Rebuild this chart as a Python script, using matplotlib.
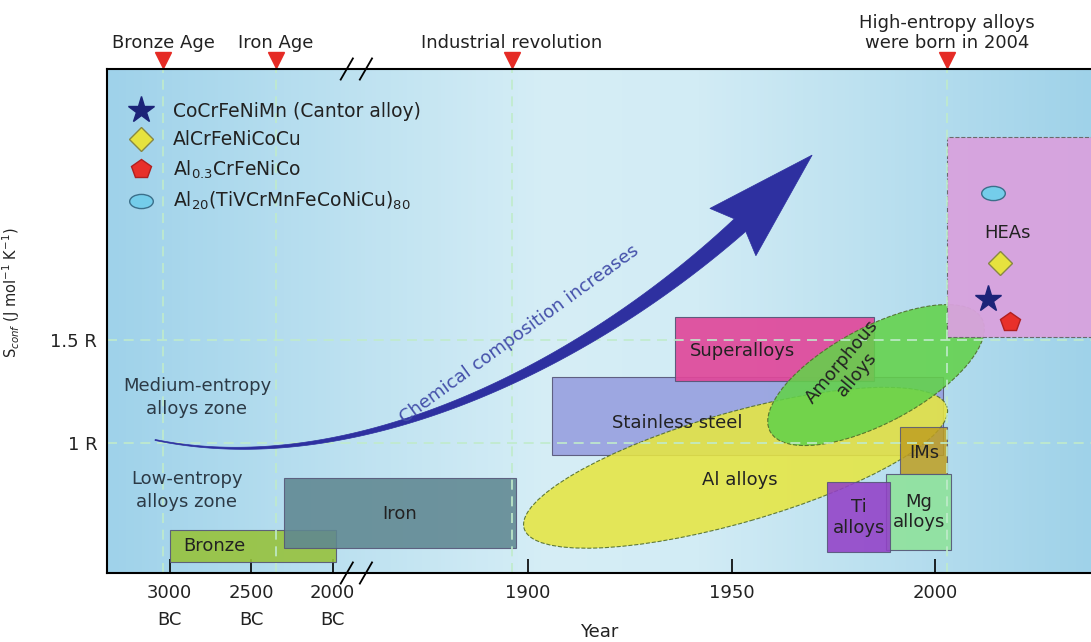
import numpy as np
import matplotlib
matplotlib.use("Agg")
import matplotlib.pyplot as plt
from matplotlib import transforms
from matplotlib.patches import Rectangle, Ellipse, Polygon
from matplotlib.colors import LinearSegmentedColormap
from matplotlib.markers import MarkerStyle
from matplotlib.path import Path

plt.rcParams["font.family"] = "DejaVu Sans"
plt.rcParams["mathtext.default"] = "regular"

# %% data (years < 0 are BC)
tick_years = [-3000, -2500, -2000, 1900, 1950, 2000]
tick_labels = ["3000\nBC", "2500\nBC", "2000\nBC", "1900", "1950", "2000"]
s_ticks = [1.0, 1.5]
s_tick_labels = ["1 R", "1.5 R"]

event_names = ["Bronze Age", "Iron Age", "Industrial revolution",
               "High-entropy alloys\nwere born in 2004"]
event_years = [-3040, -2350, 1896, 2003]

# rectangular alloy families: start year, end year, low S, high S
box_names = ["Stainless steel", "Superalloys", "Bronze", "Iron",
             "IMs", "Mg\nalloys", "Ti\nalloys", "HEAs"]
box_x0 = [1906, 1936, -3000, -2300, 1991.5, 1988, 1973.5, 2003]
box_x1 = [2002, 1985, -1980, 1897, 2003, 2004, 1989, 2045]
box_s0 = [0.94, 1.30, 0.42, 0.49, 0.85, 0.48, 0.47, 1.515]
box_s1 = [1.32, 1.61, 0.58, 0.83, 1.08, 0.85, 0.81, 2.485]

# elliptical alloy families: centre year, centre S
ell_names = ["Al alloys", "Amorphous\nalloys"]
ell_years = [1951, 1985.5]
ell_s = [0.88, 1.33]
ell_label_years = [1952, 1979]
ell_label_s = [0.82, 1.365]

# high-entropy alloys
hea_names = ["CoCrFeNiMn (Cantor alloy)", "AlCrFeNiCoCu",
             r"Al$_{0.3}$CrFeNiCo", r"Al$_{20}$(TiVCrMnFeCoNiCu)$_{80}$"]
hea_years = [2013, 2016, 2018.5, 2014.3]
hea_s = [1.70, 1.875, 1.59, 2.215]

# trend arrow: start, two controls, end of shaft, tip  (year position, S)
arrow_x = [1808.4, 1856.3, 1912.8, 1952.1, 1969.8]
arrow_s = [1.015, 0.82, 1.354, 2.058, 2.398]


def to_pos(year):
    """BC years get squeezed onto the left of the broken axis"""
    year = np.asarray(year, dtype=float)
    return np.where(year < 0, 1852 + (year + 2000) * 0.04, year)


# %% styles
box_colors = ["#97a0df", "#e0489a", "#97c23c", "#5f8791",
              "#bf9f22", "#8fe29b", "#9340c8", "#d9a2de"]
box_alpha = [0.9, 0.92, 0.9, 0.88, 0.85, 0.9, 0.88, 0.95]
box_label_fx = [0.32, 0.34, 0.08, 0.5, 0.5, 0.5, 0.5, 0.35]
box_label_fy = [0.42, 0.47, 0.5, 0.48, 0.45, 0.5, 0.5, 0.52]
box_label_ha = ["center", "center", "left", "center", "center", "center", "center", "center"]
ell_colors = ["#e6e642", "#63d24a"]
ell_size = [(440, 110, 16), (240, 96, 28)]  # width px, height px, angle
ell_rot = [0, 50]
hea_markers = ["*", "D", "p", MarkerStyle(Path.unit_circle().transformed(
    transforms.Affine2D().scale(1, 0.6)))]
hea_colors = ["#1c2378", "#e6e23e", "#e8302a", "#74cdea"]
hea_edges = ["#1c2378", "#888844", "#b02020", "#3b6f8a"]
hea_sizes = [20, 12, 15, 17]
grid_col = "#c0ebcb"
text_col = "#222222"


def curved_arrow(ax, xs, ys, w0, w1, head_w, color):
    P = ax.transData.transform(np.column_stack([xs, ys]))
    t = np.linspace(0, 1, 120)[:, None]
    c = ((1 - t) ** 3 * P[0] + 3 * (1 - t) ** 2 * t * P[1]
         + 3 * (1 - t) * t ** 2 * P[2] + t ** 3 * P[3])
    d = (3 * (1 - t) ** 2 * (P[1] - P[0]) + 6 * (1 - t) * t * (P[2] - P[1])
         + 3 * t ** 2 * (P[3] - P[2]))
    n = np.column_stack([-d[:, 1], d[:, 0]])
    n /= np.linalg.norm(n, axis=1)[:, None]
    w = (w0 + (w1 - w0) * t[:, 0] ** 1.4) / 2
    left = c + n * w[:, None]
    right = c - n * w[:, None]
    hd = P[4] - P[3]
    hn = np.array([-hd[1], hd[0]]) / np.linalg.norm(hd)
    back = -hd / np.linalg.norm(hd) * 10
    poly = np.vstack([left, P[3] + hn * head_w / 2 + back, P[4],
                      P[3] - hn * head_w / 2 + back, right[::-1]])
    ax.add_patch(Polygon(poly, closed=True, transform=transforms.IdentityTransform(),
                         facecolor=color, edgecolor=color, lw=0.5, zorder=6))


# %% figure
fig = plt.figure(figsize=(10.91, 6.42), dpi=100)
ax = fig.add_axes([107 / 1091, 69 / 642, 984 / 1091, 504 / 642])
ax.set_xlim(1796.6, 2038.3)
ax.set_ylim(0.369, 2.816)

# background gradient
bg = LinearSegmentedColormap.from_list(
    "bg", [(0, "#9fd2ea"), (0.45, "#d6eef6"), (0.6, "#d2ecf5"), (1, "#9fd2e9")])
ax.imshow(np.linspace(0, 1, 256)[None, :], extent=[1796.6, 2038.3, 0.369, 2.816],
          aspect="auto", cmap=bg, zorder=0)

# boxes
for i, name in enumerate(box_names):
    x0, x1 = to_pos(box_x0[i]), to_pos(box_x1[i])
    dashed = name == "HEAs"
    ax.add_patch(Rectangle((x0, box_s0[i]), x1 - x0, box_s1[i] - box_s0[i],
                           facecolor=box_colors[i], alpha=box_alpha[i],
                           edgecolor="#555577" if not dashed else "#666666",
                           lw=0.8, ls="--" if dashed else "-", zorder=2 if i < 4 else 4))
    ax.text(x0 + box_label_fx[i] * (x1 - x0),
            box_s0[i] + box_label_fy[i] * (box_s1[i] - box_s0[i]),
            name, ha=box_label_ha[i], va="center", fontsize=13, color=text_col,
            linespacing=1.2, zorder=9)

# ellipses
for i, name in enumerate(ell_names):
    w, h, ang = ell_size[i]
    tr = transforms.Affine2D() + transforms.ScaledTranslation(ell_years[i], ell_s[i], ax.transData)
    ax.add_patch(Ellipse((0, 0), w, h, angle=ang, transform=tr,
                         facecolor=ell_colors[i], alpha=0.88, edgecolor="#4f6a2a",
                         lw=0.8, ls="--", zorder=3))
    ax.text(ell_label_years[i], ell_label_s[i], name, rotation=ell_rot[i],
            ha="center", va="center", fontsize=13, color=text_col,
            linespacing=1.1, zorder=9)

# grid
for s in s_ticks:
    ax.axhline(s, color=grid_col, lw=1.2, ls=(0, (6, 4)), zorder=5)
for yr in event_years:
    ax.axvline(to_pos(yr), color=grid_col, lw=1.2, ls=(0, (6, 4)), zorder=5)

# zone labels
ax.text(1818.7, 1.22, "Medium-entropy\nalloys zone", ha="center", va="center",
        fontsize=13, color="#2c3a46", linespacing=1.35, zorder=9)
ax.text(1816.2, 0.77, "Low-entropy\nalloys zone", ha="center", va="center",
        fontsize=13, color="#2c3a46", linespacing=1.35, zorder=9)

# arrow
curved_arrow(ax, arrow_x, arrow_s, 1.0, 17, 66, "#2e30a0")
ax.text(1898, 1.53, "Chemical composition increases", rotation=36,
        rotation_mode="anchor", ha="center", va="center", fontsize=13,
        color="#4450aa", zorder=9)

# HEA points
for i, name in enumerate(hea_names):
    ax.plot(to_pos(hea_years[i]), hea_s[i], ls="none", marker=hea_markers[i],
            ms=hea_sizes[i], mfc=hea_colors[i], mec=hea_edges[i],
            mew=1, label=name, zorder=10)
ax.legend(loc="upper left", bbox_to_anchor=(0.012, 0.95), frameon=False,
          fontsize=13.5, labelspacing=0.5, handletextpad=0.9, handlelength=1.6,
          borderaxespad=0, labelcolor=text_col)

# top timeline
top = transforms.blended_transform_factory(ax.transData, ax.transAxes)
for name, yr in zip(event_names, event_years):
    ax.plot(to_pos(yr), 1.018, marker="v", ms=11, color="#e52b25", mec="#e52b25",
            transform=top, clip_on=False, zorder=10)
    ax.text(to_pos(yr), 1.041, name, transform=top, ha="center", va="baseline",
            fontsize=13, color=text_col, linespacing=1.15)

# axis break marks
for yb in (0, 1):
    for xb in (1855.5, 1860.2):
        ax.plot([xb - 1.5, xb + 1.5], [yb - 0.021, yb + 0.021], color="black",
                lw=1.3, transform=top, clip_on=False, zorder=11)

# axes
ax.set_xticks(to_pos(tick_years))
ax.set_xticklabels(tick_labels, linespacing=1.6)
ax.set_yticks(s_ticks)
ax.set_yticklabels(s_tick_labels)
ax.tick_params(axis="x", direction="in", length=10, width=1.2, pad=8,
               labelsize=13, labelcolor=text_col)
ax.tick_params(axis="y", length=0, pad=7, labelsize=13, labelcolor=text_col)
for side in ("left", "bottom", "top"):
    ax.spines[side].set_linewidth(1.5)
    ax.spines[side].set_zorder(12)
ax.spines["right"].set_visible(False)
ax.set_xlabel("Year", fontsize=13, color=text_col)
ax.xaxis.set_label_coords(0.5, -0.1)
ax.set_ylabel(r"S$_{\mathit{conf}}$ (J mol$^{-1}$ K$^{-1}$)", fontsize=10.5, color=text_col)
ax.yaxis.set_label_coords(-0.086, 0.556)

fig.savefig("out.png", dpi=100)
